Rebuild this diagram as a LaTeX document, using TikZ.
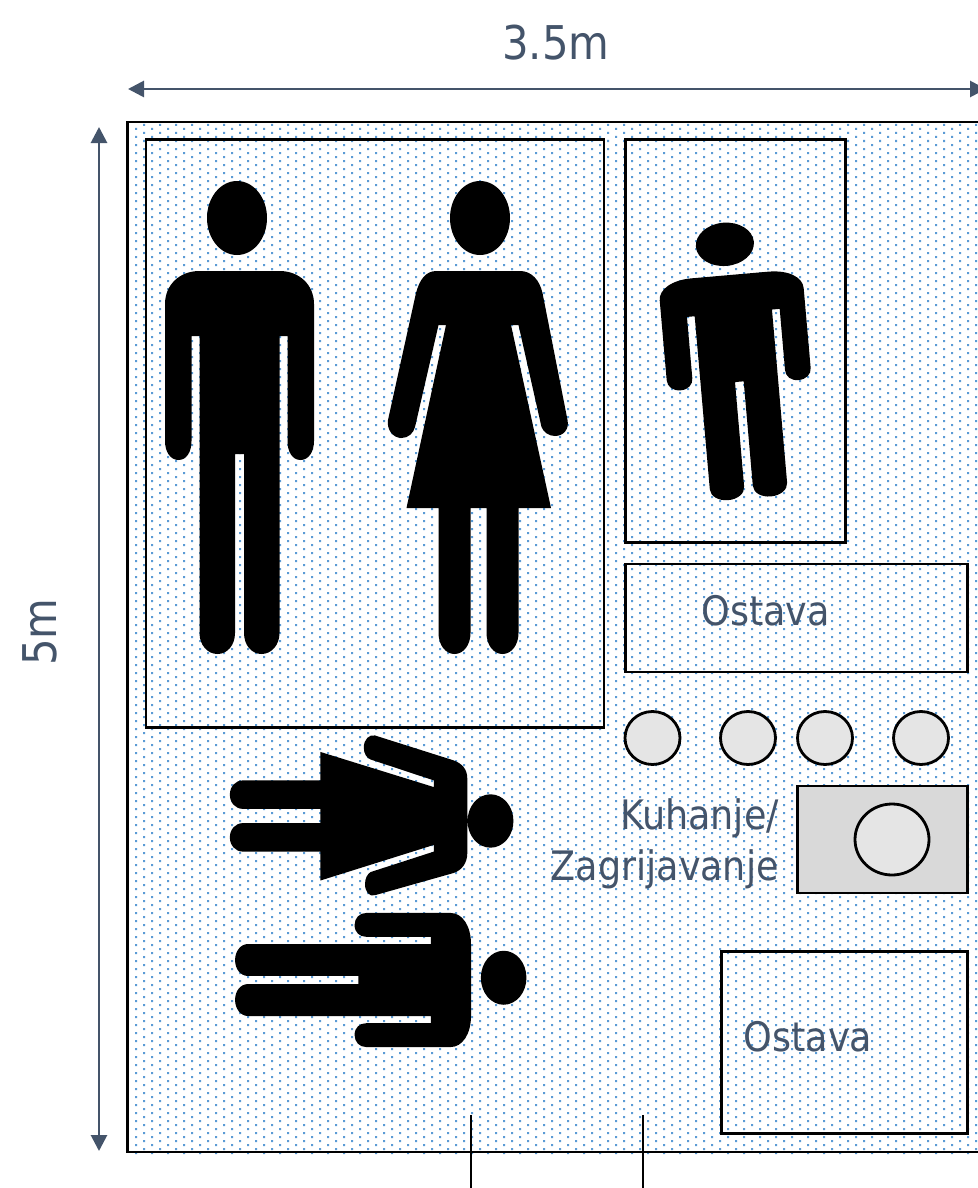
\documentclass[tikz,border=0pt]{standalone}
\usepackage{fontspec}
\setmainfont{DejaVu Sans Condensed}
\usepackage{xcolor}
\usetikzlibrary{shapes,arrows.meta}
\definecolor{slate}{HTML}{44546A}
\definecolor{dotblue}{HTML}{5B9BD5}
\tikzstyle{room} = [rectangle, draw=black, line width=2.8pt, anchor=north west, outer sep=0pt, inner sep=0pt]
\tikzstyle{ring} = [ellipse, draw=black, line width=2.8pt, fill=black!10, outer sep=0pt, inner sep=0pt]
\tikzstyle{label} = [text=slate, font=\fontsize{40.6}{51}\selectfont, inner sep=0pt]
\tikzstyle{dimlabel} = [label, font=\fontsize{46.5}{51}\selectfont]
\tikzstyle{line} = [draw=slate, line width=2.8pt, {Triangle[length=16pt,width=16pt]}-{Triangle[length=16pt,width=16pt]}]
\tikzstyle{door} = [draw=black, line width=2.2pt]
% figures, drawn from the middle of the shoulders
\newcommand{\manbody}{
  (-40,0) -- (40,0) .. controls (60,0) and (74.5,14) .. (74.5,33) -- (74.5,170)
  .. controls (74.5,181) and (69,189) .. (61,189) .. controls (53,189) and (48,181) .. (48,170)
  -- (48,65) -- (40,65) -- (40,362) .. controls (40,374) and (32,383) .. (22,383)
  .. controls (12,383) and (4.5,374) .. (4.5,362) -- (4.5,183) -- (-4.5,183) -- (-4.5,362)
  .. controls (-4.5,374) and (-12,383) .. (-22,383) .. controls (-32,383) and (-40,374) .. (-40,362)
  -- (-40,65) -- (-48,65) -- (-48,170) .. controls (-48,181) and (-53,189) .. (-61,189)
  .. controls (-69,189) and (-74.5,181) .. (-74.5,170) -- (-74.5,33)
  .. controls (-74.5,14) and (-60,0) .. (-40,0) -- cycle}
\newcommand{\womanbody}{
  (-42,0) -- (41.5,0) .. controls (53,0) and (61,9) .. (64,22) -- (89,149)
  .. controls (91,158) and (85,165) .. (76.5,165) .. controls (70,165) and (65,161) .. (63,156)
  -- (40,54) -- (32.5,54) -- (72.5,237) -- (40,237) -- (40,362)
  .. controls (40,374) and (33,383) .. (24,383) .. controls (15,383) and (8,374) .. (8,362)
  -- (8,237) -- (-8,237) -- (-8,362) .. controls (-8,374) and (-15,383) .. (-24,383)
  .. controls (-33,383) and (-40,374) .. (-40,362) -- (-40,237) -- (-72,237) -- (-32.5,54)
  -- (-40,54) -- (-63.5,156) .. controls (-65,162) and (-70,167) .. (-77,167)
  .. controls (-86,167) and (-92,158) .. (-90.5,149) -- (-62.5,22)
  .. controls (-59,9) and (-53,0) .. (-42,0) -- cycle}
\begin{document}
\begin{tikzpicture}[x=1pt, y=-1pt]
  \useasboundingbox (0,0) rectangle (977,1188);

  % Dotted floor
  \foreach \row in {0,...,128} {
    \fill [dotblue] foreach \col in {0,...,52} {(135+16*\col,128+8*\row) rectangle +(2,2)};
    \fill [dotblue] foreach \col in {0,...,52} {(143+16*\col,124+8*\row) rectangle +(2,2)};
  }

  % Place rooms
  \node [room, minimum width=858pt, minimum height=1030pt] (house) at (127.5,122) {};
  \node [room, minimum width=458pt, minimum height=588pt] (bedroom) at (146,139.5) {};
  \node [room, minimum width=220pt, minimum height=403pt] (kidsroom) at (625.5,139.5) {};
  \node [room, minimum width=342pt, minimum height=108pt] (storeup) at (625.5,564) {};
  \node [room, minimum width=246pt, minimum height=182pt] (storedown) at (721.5,951.5) {};
  \node [room, fill=black!15, minimum width=170pt, minimum height=107pt] (cooker) at (797.5,786) {};

  % Place rings
  \foreach \name/\xpos in {ringa/652.5, ringb/748, ringc/825, ringd/921}
    \node [ring, minimum width=55pt, minimum height=53pt] (\name) at (\xpos,738) {};
  \node [ring, minimum width=74pt, minimum height=71pt] (burner) at (892,839.5) {};

  % Place labels
  \node [label] (storeuptext) at (765.5,611) {Ostava};
  \node [label] (storedowntext) at (808,1037) {Ostava};
  \node [label, align=right, anchor=east] (cookertext) at (779,844) {Kuhanje/\\Zagrijavanje};
  \node [dimlabel] (widthtext) at (556,43) {3.5m};
  \node [dimlabel, rotate=90] (depthtext) at (40,632) {5m};

  % Place figures
  \begin{scope}[shift={(239.5,271)}]
    \fill \manbody (-2.5,-53) ellipse [x radius=30, y radius=37];
  \end{scope}
  \begin{scope}[shift={(478.5,271)}]
    \fill \womanbody (1.5,-53) ellipse [x radius=30, y radius=37];
  \end{scope}
  \begin{scope}[shift={(730,275)}, x={(.966pt,.084pt)}, y={(.051pt,-.583pt)}]
    \fill \manbody (-2.5,-53) ellipse [x radius=30, y radius=37];
  \end{scope}
  \begin{scope}[shift={(467.3,816)}, x={(0pt,-.89pt)}, y={(-.62pt,0pt)}]
    \fill \womanbody (5.6,-37.4) ellipse [x radius=30, y radius=37];
  \end{scope}
  \begin{scope}[shift={(471,980)}, x={(0pt,-.9pt)}, y={(-.616pt,0pt)}]
    \fill \manbody (-2.5,-53) ellipse [x radius=30, y radius=37];
  \end{scope}

  % Draw dimension arrows and door lines
  \coordinate (widthleft) at (128,89);
  \coordinate (widthright) at (986,89);
  \coordinate (depthtop) at (99,127);
  \coordinate (depthbottom) at (99,1151);
  \coordinate (doorlefttop) at (471,1115);
  \coordinate (doorleftbottom) at (471,1188);
  \coordinate (doorrighttop) at (643,1115);
  \coordinate (doorrightbottom) at (643,1188);
  \path [line] (widthleft) -- (widthright);
  \path [line] (depthtop) -- (depthbottom);
  \path [door] (doorlefttop) -- (doorleftbottom);
  \path [door] (doorrighttop) -- (doorrightbottom);
\end{tikzpicture}
\end{document}
